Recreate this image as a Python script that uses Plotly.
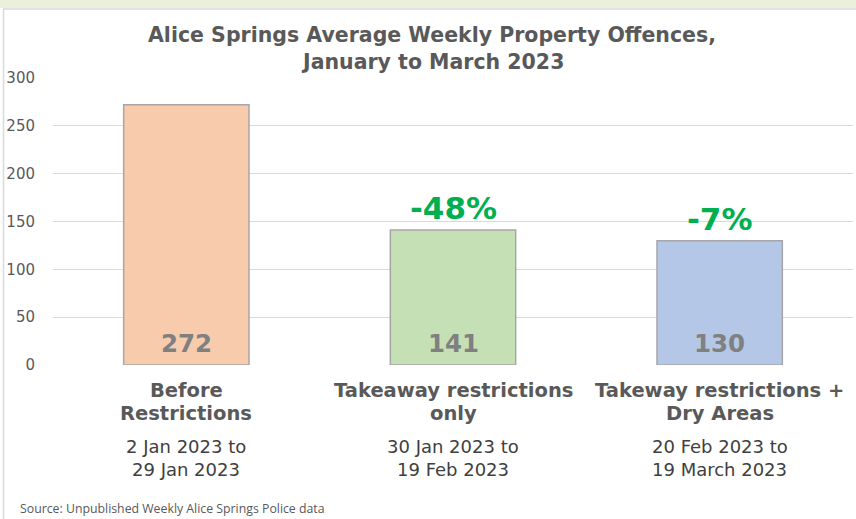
import plotly.graph_objects as go

category_lines = [["Before", "Restrictions"], ["Takeaway restrictions", "only"], ["Takeway restrictions +", "Dry Areas"]]
date_lines = [["2 Jan 2023 to", "29 Jan 2023"], ["30 Jan 2023 to", "19 Feb 2023"], ["20 Feb 2023 to", "19 March 2023"]]
values = [272, 141, 130]
changes = [None, "-48%", "-7%"]
colors = ["#f8cbad", "#c5e0b4", "#b4c7e7"]
y_ticks = [0, 50, 100, 150, 200, 250, 300]
title_lines = ["Alice Springs Average Weekly Property Offences,", "January to March 2023"]
source = "Source: Unpublished Weekly Alice Springs Police data"

W, H = 856, 519
L, R, T, B = 53, 3, 78, 154
plot_w = W - L - R
plot_h = H - T - B

def px_x(px):
    return (px - L) / plot_w

def px_y(py):
    return (H - B - py) / plot_h

x = [0, 1, 2]
fig = go.Figure()
fig.add_trace(go.Bar(
    x=x, y=values, width=0.47,
    marker=dict(color=colors, line=dict(color="#a6a6a6", width=1.5)),
    hoverinfo="skip",
))

ann = []
for i, v in enumerate(values):
    ann.append(dict(x=i, y=0, xref="x", yref="y", text=f"<b>{v}</b>", showarrow=False,
                    yanchor="bottom", yshift=5, font=dict(family="DejaVu Sans", size=24.5, color="#808080")))
    for j, line in enumerate(category_lines[i]):
        ann.append(dict(x=i, y=px_y(390 + 23 * j), xref="x", yref="paper", text=f"<b>{line}</b>", showarrow=False,
                        yanchor="middle", font=dict(family="DejaVu Sans", size=19.5, color="#595959")))
    for j, line in enumerate(date_lines[i]):
        ann.append(dict(x=i, y=px_y(447 + 23 * j), xref="x", yref="paper", text=line, showarrow=False,
                        yanchor="middle", font=dict(family="DejaVu Sans", size=18, color="#404040")))
    if changes[i]:
        ann.append(dict(x=i, y=v, xref="x", yref="y", text=f"<b>{changes[i]}</b>", showarrow=False,
                        yanchor="bottom", yshift=2, font=dict(family="DejaVu Sans", size=31, color="#00b050")))
for j, line in enumerate(title_lines):
    ann.append(dict(x=px_x(432), y=px_y(35 + 27 * j), xref="paper", yref="paper", text=f"<b>{line}</b>",
                    showarrow=False, xanchor="center", yanchor="middle",
                    font=dict(family="DejaVu Sans", size=20.5, color="#595959")))
ann.append(dict(x=px_x(18), y=px_y(508), xref="paper", yref="paper", text=source,
                showarrow=False, xanchor="left", yanchor="middle",
                font=dict(family="Open Sans", size=12.3, color="#595959")))

fig.update_layout(
    width=W, height=H,
    margin=dict(l=L, r=R, t=T, b=B),
    paper_bgcolor="white", plot_bgcolor="white",
    showlegend=False,
    xaxis=dict(range=[-0.5, 2.5], showticklabels=False, showgrid=False, zeroline=False,
               showline=False, fixedrange=True),
    yaxis=dict(range=[0, 300], tickvals=y_ticks, showgrid=True, gridcolor="#d9d9d9", gridwidth=1,
               zeroline=False, showline=False, ticks="", ticklabelstandoff=17, fixedrange=True,
               tickfont=dict(family="DejaVu Sans", size=15, color="#595959")),
    shapes=[
        dict(type="rect", xref="paper", yref="paper", x0=px_x(0), x1=px_x(W), y0=px_y(0), y1=px_y(8),
             fillcolor="#e9f1dd", line=dict(width=0), layer="below"),
        dict(type="line", xref="paper", yref="paper", x0=px_x(3), x1=px_x(W), y0=px_y(9), y1=px_y(9),
             line=dict(color="#d9d9d9", width=1.5)),
        dict(type="line", xref="paper", yref="paper", x0=px_x(3.5), x1=px_x(3.5), y0=px_y(9), y1=px_y(H),
             line=dict(color="#d9d9d9", width=1.5)),
    ],
    annotations=ann,
)

fig.write_html("out.html", config={"displayModeBar": False},
               post_script="document.body.style.margin='0';document.body.style.overflow='hidden';")
